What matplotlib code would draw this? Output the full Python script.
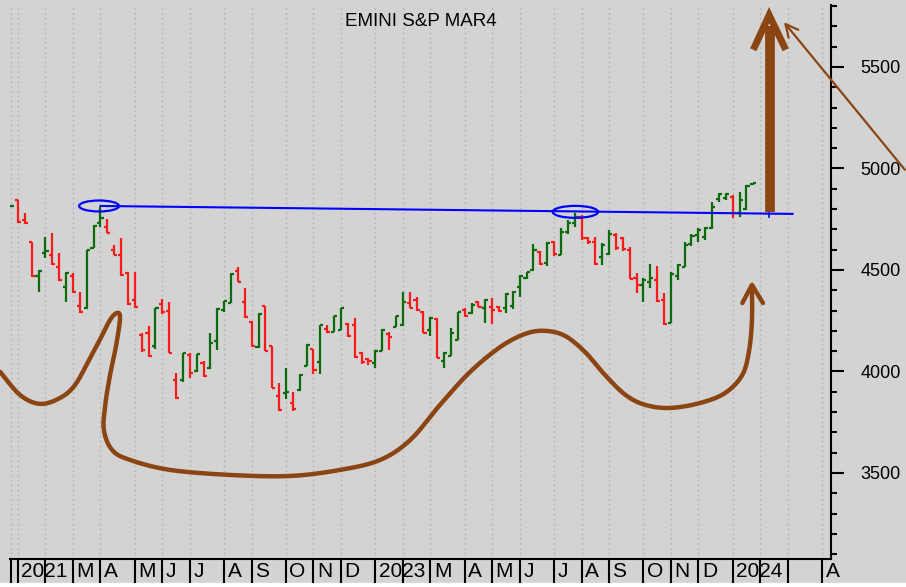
import numpy as np
import pandas as pd
import matplotlib
matplotlib.use("Agg")
import matplotlib.pyplot as plt
from matplotlib.patches import Ellipse, Rectangle
from matplotlib.ticker import MultipleLocator
from matplotlib.transforms import ScaledTranslation

# ---------------- weekly OHLC bars (Friday dates) ----------------
START = "2021-12-31"

OPEN = [4815, 4842, 4745, 4638, 4470, 4585, 4575, 4513, 4418, 4470,
        4323, 4311, 4607, 4730, 4713, 4598, 4574, 4483, 4352, 4180,
        4188, 4126, 4330, 4298, 3958, 3958, 4081, 4003, 4040, 4016,
        4150, 4303, 4336, 4497, 4344, 4244, 4118, 4322, 4125, 3881,
        3895, 3843, 3909, 4029, 4108, 4045, 4209, 4196, 4204, 4235,
        4229, 4089, 4062, 4040, 4101, 4185, 4220, 4229, 4335, 4352,
        4294, 4204, 4260, 4051, 4078, 4155, 4303, 4287, 4341, 4311,
        4319, 4319, 4311, 4320, 4418, 4459, 4500, 4590, 4533, 4640,
        4574, 4689, 4730, 4763, 4659, 4640, 4566, 4577, 4672, 4656,
        4599, 4459, 4426, 4440, 4451, 4352, 4237, 4470, 4516, 4630,
        4672, 4660, 4705, 4848, 4853, 4861, 4779, 4799, 4921]
HIGH = [4818, 4845, 4782, 4640, 4500, 4664, 4680, 4582, 4492, 4483,
        4393, 4598, 4722, 4812, 4750, 4623, 4656, 4492, 4492, 4188,
        4224, 4313, 4357, 4341, 3991, 4093, 4090, 4088, 4049, 4191,
        4311, 4349, 4484, 4513, 4413, 4246, 4287, 4324, 4127, 3942,
        4016, 3901, 3986, 4134, 4110, 4229, 4229, 4275, 4314, 4237,
        4262, 4097, 4068, 4106, 4209, 4196, 4275, 4390, 4390, 4368,
        4298, 4270, 4262, 4094, 4216, 4295, 4311, 4336, 4347, 4357,
        4360, 4324, 4385, 4397, 4475, 4492, 4626, 4594, 4640, 4643,
        4705, 4746, 4779, 4771, 4664, 4664, 4631, 4697, 4684, 4664,
        4615, 4484, 4459, 4530, 4520, 4388, 4492, 4530, 4640, 4677,
        4705, 4710, 4837, 4878, 4881, 4869, 4886, 4919, 4930]
LOW = [4810, 4730, 4727, 4464, 4393, 4557, 4525, 4447, 4344, 4385,
       4290, 4306, 4607, 4710, 4680, 4574, 4470, 4328, 4311, 4098,
       4073, 4110, 4282, 4090, 3865, 3950, 3966, 3996, 3971, 4012,
       4106, 4295, 4336, 4439, 4265, 4122, 4114, 4101, 3917, 3807,
       3865, 3807, 3904, 4029, 3986, 3986, 4188, 4193, 4204, 4171,
       4068, 4035, 4032, 4019, 4101, 4106, 4217, 4225, 4311, 4298,
       4188, 4176, 4065, 4019, 4078, 4155, 4270, 4282, 4315, 4237,
       4232, 4295, 4287, 4308, 4369, 4456, 4495, 4525, 4521, 4571,
       4574, 4676, 4713, 4648, 4626, 4525, 4525, 4574, 4599, 4595,
       4454, 4385, 4344, 4410, 4344, 4229, 4237, 4451, 4513, 4618,
       4640, 4648, 4700, 4837, 4845, 4754, 4763, 4795, 4919]
CLOSE = [4815, 4734, 4732, 4468, 4497, 4595, 4528, 4450, 4484, 4390,
         4295, 4596, 4717, 4755, 4684, 4575, 4475, 4332, 4316, 4106,
         4075, 4311, 4292, 4093, 3867, 4090, 3991, 4085, 3975, 4142,
         4308, 4347, 4482, 4441, 4267, 4124, 4283, 4103, 3919, 3809,
         3900, 3815, 3984, 4131, 4007, 4227, 4193, 4273, 4311, 4173,
         4070, 4045, 4050, 4101, 4204, 4170, 4273, 4340, 4313, 4303,
         4190, 4265, 4067, 4092, 4188, 4291, 4275, 4328, 4319, 4352,
         4303, 4298, 4380, 4393, 4472, 4489, 4599, 4527, 4631, 4577,
         4686, 4730, 4763, 4656, 4640, 4527, 4623, 4676, 4607, 4602,
         4456, 4426, 4451, 4459, 4346, 4234, 4480, 4525, 4623, 4668,
         4697, 4705, 4812, 4874, 4874, 4779, 4845, 4914, 4927]

# month axis labels, one per month start (Dec 2021 .. Apr 2024)
MONTH_LABELS = ["", "2021", "", "M", "A", "M", "J", "J", "A", "S", "O", "N", "D",
                "2023", "", "M", "A", "M", "J", "J", "A", "S", "O", "N", "D",
                "2024", "", "", "A"]
Y_MAJOR = [3500, 4000, 4500, 5000, 5500]

# hand drawn marks (week index, price)
TREND_X = [13.0, 113.7]
TREND_Y = [4815, 4776]
RINGS = [(12.8, 4815, 5.8, 54), (82.1, 4786, 6.6, 59)]
CUP_X = [-1.6, 1.3, 4.2, 7.1, 9.3, 11.5, 12.9, 14.4, 15.4, 15.85, 15.3, 14.4,
         13.7, 13.5, 14.7, 17.3, 23.1, 31.9, 40.6, 47.9, 53.7, 58.1, 62.4,
         66.8, 71.2, 74.8, 77.7, 80.6, 83.5, 86.4, 89.4, 92.3, 95.9, 100.3,
         103.9, 106.4, 107.4, 107.8, 107.8]
CUP_Y = [3998, 3884, 3840, 3869, 3933, 4067, 4155, 4254, 4288, 4264, 4131, 3983,
         3835, 3712, 3613, 3564, 3515, 3490, 3485, 3515, 3564, 3663, 3835,
         3998, 4121, 4185, 4200, 4175, 4096, 3983, 3884, 3835, 3820, 3845,
         3894, 3983, 4106, 4254, 4400]

GREEN, RED, BROWN, BG = "#0a6b0a", "#ff1a1a", "#8b4513", "#d3d3d3"


def catmull(xs, ys, n=14):
    p = np.column_stack([xs, ys]).astype(float)
    p = np.vstack([p[0], p, p[-1]])
    t = np.linspace(0, 1, n, endpoint=False)[:, None]
    out = []
    for k in range(1, len(p) - 2):
        p0, p1, p2, p3 = p[k - 1], p[k], p[k + 1], p[k + 2]
        out.append(0.5 * (2 * p1 + (p2 - p0) * t
                          + (2 * p0 - 5 * p1 + 4 * p2 - p3) * t ** 2
                          + (3 * p1 - p0 - 3 * p2 + p3) * t ** 3))
    out.append(p[-2][None])
    return np.vstack(out)


o, h, l, c = map(np.array, (OPEN, HIGH, LOW, CLOSE))
x = np.arange(len(o))
col = np.where(c >= o, GREEN, RED)

dates = pd.date_range(START, periods=125, freq="W-FRI")
m = dates.to_period("M")
tick_pos = [0] + [i for i in range(1, len(dates)) if m[i] != m[i - 1]]
tick_pos = tick_pos[:len(MONTH_LABELS)]

fig = plt.figure(figsize=(9.06, 5.87), dpi=100, facecolor=BG)
fig.patches.append(Rectangle((0, 0), 1, 4 / 587, transform=fig.transFigure,
                             color="white", zorder=-1))
ax = fig.add_axes([10 / 906, 28 / 587, 821 / 906, 554 / 587], facecolor=BG)

ax.vlines(x, l, h, colors=col, lw=1.6, zorder=3)
ax.hlines(o, x - 0.45, x, colors=col, lw=1.6, zorder=3)
ax.hlines(c, x, x + 0.45, colors=col, lw=1.6, zorder=3)

ax.set_xlim(-0.16, 119.3)
ax.set_ylim(3076, 5805)

# x axis: month ticks with labels sitting right of the tick
ax.set_xticks(tick_pos)
ax.set_xticklabels(MONTH_LABELS, ha="left", fontsize=15, family="Liberation Sans")
ax.tick_params(axis="x", length=17, width=1.5, direction="out", pad=-15)
for lab in ax.get_xticklabels():
    lab.set_transform(lab.get_transform() + ScaledTranslation(2.5 / 72, 0, fig.dpi_scale_trans))
ax.grid(axis="x", color="#b9b9b9", ls=(0, (1.5, 2)), lw=1, zorder=0)

# y axis on the right
ax.yaxis.tick_right()
ax.set_yticks(Y_MAJOR)
ax.yaxis.set_minor_locator(MultipleLocator(100))
ax.tick_params(axis="y", which="major", length=9, width=1.5, pad=12, labelsize=13)
ax.tick_params(axis="y", which="minor", length=4.5, width=1.5)
for lab in ax.get_yticklabels():
    lab.set_family("Liberation Sans")

for s in ("left", "top"):
    ax.spines[s].set_visible(False)
for s in ("bottom", "right"):
    ax.spines[s].set_linewidth(1.5)

ax.text(0.5, 0.97, "EMINI S&P MAR4", transform=ax.transAxes, ha="center", va="center",
        fontsize=13.5, family="Liberation Sans")

# trend line and rings
ax.plot(TREND_X, TREND_Y, color="#0000ff", lw=1.5, zorder=4)
for cx, cy, w, hh in RINGS:
    ax.add_patch(Ellipse((cx, cy), w, hh, fill=False, ec="#0000ff", lw=1.6, zorder=4))
ax.plot([110.3, 110.3], [4760, 4800], color="#0000ff", lw=1.2, zorder=4)

# brown cup drawing with small arrow
cup = catmull(CUP_X, CUP_Y)
ax.plot(cup[:, 0], cup[:, 1], color=BROWN, lw=3.2, solid_capstyle="round",
        clip_on=False, zorder=5)
ax.plot([106.4, 107.8, 109.4], [4337, 4426, 4337], color=BROWN, lw=3.2,
        solid_capstyle="round", solid_joinstyle="round", zorder=5)

# big arrow up
ax.plot([110.45, 110.45], [4786, 5700], color=BROWN, lw=7, solid_capstyle="butt", zorder=5)
ax.plot([108.2, 110.3, 112.5], [5600, 5755, 5600], color=BROWN, lw=5,
        solid_joinstyle="miter", zorder=5)

# thin arrow from the right
ax.annotate("", xy=(112.2, 5731), xytext=(130.3, 4983), annotation_clip=False,
            arrowprops=dict(arrowstyle="->,head_length=0.9,head_width=0.45",
                            color=BROWN, lw=1.6))

fig.savefig("out.png", dpi=100, facecolor=BG)
